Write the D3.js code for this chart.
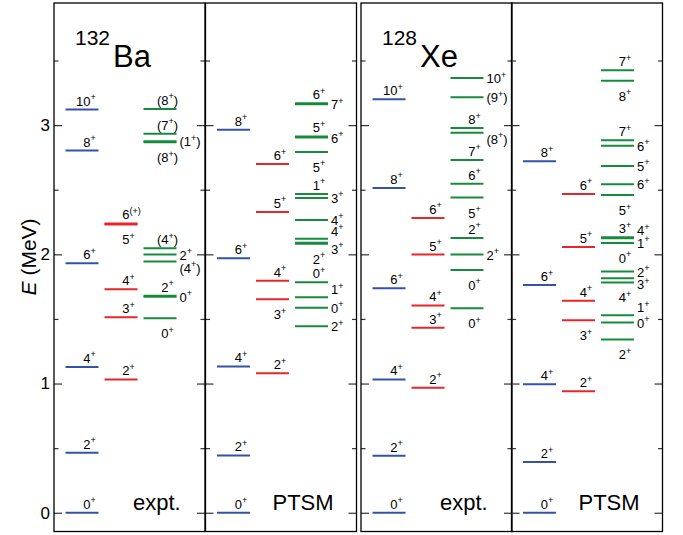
<!DOCTYPE html>
<html>
<head>
<meta charset="utf-8">
<script src="https://d3js.org/d3.v7.min.js"></script>
<style>
  body { margin: 0; background: #fff; }
  text { font-family: "Liberation Sans", Arial, sans-serif; fill: #000; }
</style>
</head>
<body>
<script>
  // levels: [energy MeV, spin label, label place] a=above b=below r=right ra/rb=right up/down
  var baExptGsb = [[0,"0+","a"],[0.464,"2+","a"],[1.129,"4+","a"],[1.931,"6+","a"],[2.803,"8+","a"],[3.120,"10+","a"]];
  var baExptGam = [[1.032,"2+","a"],[1.513,"3+","a"],[1.730,"4+","a"],[2.239,"6(+)","a"],[2.231,"5+","b"]];
  var baExptOth = [[3.125,"(8+)","a"],[2.934,"(7+)","a"],[2.876,"(1+)","r"],[2.868,"(8+)","b"],
                   [2.047,"(4+)","a"],[1.998,"2+","r"],[1.944,"(4+)","rb"],[1.680,"2+","a"],[1.672,"0+","r"],[1.506,"0+","b"]];

  var baPtsmGsb = [[0,"0+","a"],[0.444,"2+","a"],[1.132,"4+","a"],[1.970,"6+","a"],[2.965,"8+","a"]];
  var baPtsmGam = [[1.080,"2+","a"],[1.653,"3+","b"],[1.796,"4+","a"],[2.328,"5+","a"],[2.699,"6+","a"]];
  var baPtsmOth = [[3.170,"6+","a"],[3.162,"7+","r"],[2.912,"5+","a"],[2.904,"6+","r"],[2.792,"5+","b"],
                   [2.467,"1+","a"],[2.436,"3+","r"],[2.266,"4+","r"],[2.120,"4+","ra"],[2.090,"3+","rb"],[2.082,"2+","b"],
                   [1.784,"0+","a"],[1.668,"1+","ra"],[1.586,"0+","r"],[1.444,"2+","r"]];

  var xeExptGsb = [[0,"0+","a"],[0.441,"2+","a"],[1.032,"4+","a"],[1.738,"6+","a"],[2.514,"8+","a"],[3.200,"10+","a"]];
  var xeExptGam = [[0.967,"2+","a"],[1.431,"3+","a"],[1.604,"4+","a"],[1.998,"5+","a"],[2.282,"6+","a"]];
  var xeExptOth = [[3.364,"10+","r"],[3.215,"(9+)","r"],[2.977,"8+","a"],[2.941,"(8+)","rb"],[2.730,"7+","a"],
                   [2.547,"6+","a"],[2.439,"5+","b"],[2.127,"2+","a"],[1.998,"2+","r"],[1.879,"0+","b"],[1.583,"0+","b"]];

  var xePtsmGsb = [[0,"0+","a"],[0.392,"2+","a"],[0.995,"4+","a"],[1.762,"6+","a"],[2.720,"8+","a"]];
  var xePtsmGam = [[0.941,"2+","a"],[1.490,"3+","b"],[1.640,"4+","a"],[2.057,"5+","a"],[2.467,"6+","a"]];
  var xePtsmOth = [[3.424,"7+","a"],[3.344,"8+","b"],[2.882,"7+","a"],[2.841,"6+","r"],[2.684,"5+","r"],
                   [2.543,"6+","r"],[2.459,"5+","b"],[2.132,"3+","a"],[2.124,"4+","ra"],[2.088,"1+","r"],[2.088,"0+","b"],
                   [1.867,"2+","r"],[1.815,"3+","rb"],[1.782,"4+","b"],[1.529,"1+","ra"],[1.472,"0+","r"],[1.341,"2+","b"]];

  var majorTicks = [0, 1, 2, 3];
  var minorTicks = [0.5, 1.5, 2.5, 3.5];
  var bandColors = ["#3453a6", "#e5262b", "#168b3d"];

  var panels = [
    { left: 54,    levels: [baExptGsb, baExptGam, baExptOth], tag: "expt.", nucA: "132", nucX: "Ba" },
    { left: 205.5, levels: [baPtsmGsb, baPtsmGam, baPtsmOth], tag: "PTSM" },
    { left: 361,   levels: [xeExptGsb, xeExptGam, xeExptOth], tag: "expt.", nucA: "128", nucX: "Xe" },
    { left: 511.5, levels: [xePtsmGsb, xePtsmGam, xePtsmOth], tag: "PTSM" }
  ];
  var pw = 151;

  var svg = d3.select("body").append("svg")
    .attr("width", 683)
    .attr("height", 535);

  var y = d3.scaleLinear().domain([-0.145, 3.945]).range([531.5, 3]);
  var colX = d3.scaleLinear().domain([0, 2]).range([11.5, 89.5]);
  var lw = 33;

  function styleAxis(g) {
    g.select(".domain").remove();
    g.selectAll(".tick line").attr("stroke", "#333").attr("stroke-width", 1.2);
    g.selectAll(".tick text").attr("font-size", 17).attr("font-family", "Liberation Sans, Arial, sans-serif");
  }

  panels.forEach(function(p, i) {
    var x0 = p.left, x1 = p.left + pw;

    svg.append("g").attr("transform", "translate(" + x0 + ",0)")
      .call(d3.axisLeft(y).tickValues(majorTicks).tickSizeInner(-8).tickSizeOuter(0).tickPadding(4)
        .tickFormat(i === 0 ? d3.format("d") : function() { return ""; }))
      .call(styleAxis);
    svg.append("g").attr("transform", "translate(" + x0 + ",0)")
      .call(d3.axisLeft(y).tickValues(minorTicks).tickSizeInner(-4.5).tickSizeOuter(0).tickFormat(""))
      .call(styleAxis);
    svg.append("g").attr("transform", "translate(" + x1 + ",0)")
      .call(d3.axisRight(y).tickValues(majorTicks).tickSizeInner(-8).tickSizeOuter(0).tickFormat(""))
      .call(styleAxis);
    svg.append("g").attr("transform", "translate(" + x1 + ",0)")
      .call(d3.axisRight(y).tickValues(minorTicks).tickSizeInner(-4.5).tickSizeOuter(0).tickFormat(""))
      .call(styleAxis);

    svg.append("rect")
      .attr("x", x0).attr("y", y.range()[1])
      .attr("width", pw).attr("height", y.range()[0] - y.range()[1])
      .attr("fill", "none").attr("stroke", "#000").attr("stroke-width", 1.3);

    var g = svg.append("g");
    p.levels.forEach(function(band, c) {
      var xa = x0 + colX(c), xb = xa + lw;
      g.selectAll(null).data(band).enter().append("line")
        .attr("x1", xa).attr("x2", xb)
        .attr("y1", function(d) { return y(d[0]); })
        .attr("y2", function(d) { return y(d[0]); })
        .attr("stroke", bandColors[c])
        .attr("stroke-width", 2);
      band.forEach(function(d) { drawLabel(g, d[1], d[2], xb, y(d[0])); });
    });

    svg.append("text")
      .attr("x", x0 + (p.tag === "PTSM" ? 67 : 79))
      .attr("y", 510)
      .attr("font-size", 22)
      .text(p.tag);

    if (p.nucA) {
      svg.append("text").attr("x", x0 + 21).attr("y", 45).attr("font-size", 21).text(p.nucA);
      svg.append("text").attr("x", x0 + 59).attr("y", 67).attr("font-size", 31).text(p.nucX);
    }
  });

  function drawLabel(g, str, pos, xb, yy) {
    var m = str.match(/^(\(?\d+)(\(\+\)|\+)(\)?)$/);
    var base = m[1], sup = m[2], tail = m[3];
    var t;
    if (pos === "a" || pos === "b") {
      var ty = pos === "a" ? yy - 4 : yy + 20;
      g.append("text").attr("x", xb - 8).attr("y", ty)
        .attr("text-anchor", "end").attr("font-size", 13).text(base);
      t = g.append("text").attr("x", xb - 8).attr("y", ty).attr("font-size", 13);
    } else {
      var off = pos === "ra" ? -3 : (pos === "rb" ? 11 : 5);
      t = g.append("text").attr("x", xb + 3).attr("y", yy + off).attr("font-size", 13);
      t.append("tspan").text(base);
    }
    t.append("tspan").attr("font-size", 9).attr("dy", -5.5).text(sup);
    if (tail) t.append("tspan").attr("dy", 5.5).text(tail);
  }

  var yl = svg.append("text")
    .attr("transform", "translate(36," + y(1.98) + ") rotate(-90)")
    .attr("text-anchor", "middle")
    .attr("font-size", 21);
  yl.append("tspan").attr("font-style", "italic").text("E");
  yl.append("tspan").text(" (MeV)");
</script>
</body>
</html>
